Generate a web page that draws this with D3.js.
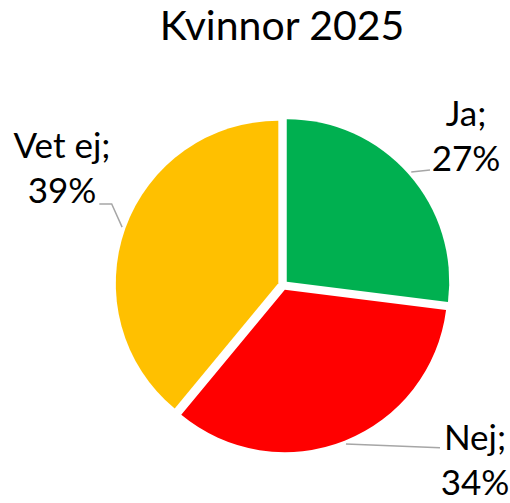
<!DOCTYPE html>
<html>
<head>
<meta charset="utf-8">
<script src="https://cdn.jsdelivr.net/npm/d3@7"></script>
<style>
  html, body { margin: 0; padding: 0; background: #fff; }
  svg { display: block; }
  text { font-family: Lato, "Open Sans", sans-serif; fill: #000; }
</style>
</head>
<body>
<svg width="510" height="503"></svg>
<script>
// data
var categories = ["Ja", "Nej", "Vet ej"];
var values = [27, 34, 39];
var colors = ["#00B050", "#FF0000", "#FFC000"];
var title = "Kvinnor 2025";

var svg = d3.select("svg"),
  width = +svg.attr("width"),
  height = +svg.attr("height");

var cx = 283, cy = 285,
  radius = 162.5,
  explode = 5;

// where each label sits (text centre x, first baseline y) and where its leader ends
var labelLayout = [
  {x: 466, y: 126, path: [[430, 170]]},
  {x: 475, y: 450, path: [[440, 447.7]]},
  {x: 62, y: 158, path: [[111.7, 204], [99.3, 204]]}
];

svg.append("text")
  .attr("x", 282)
  .attr("y", 40)
  .attr("text-anchor", "middle")
  .style("font-size", "41px")
  .text(title);

var pie = d3.pie().sort(null).value(function (d) { return d; });
var arcs = pie(values);

var arc = d3.arc().innerRadius(0).outerRadius(radius);

function mid(d) {
  return (d.startAngle + d.endAngle) / 2;
}

var g = svg.append("g").attr("transform", "translate(" + cx + "," + cy + ")");

g.selectAll("path.slice")
  .data(arcs)
  .enter().append("path")
  .attr("class", "slice")
  .attr("fill", function (d, i) { return colors[i]; })
  .attr("transform", function (d) {
    var a = mid(d);
    return "translate(" + (Math.sin(a) * explode) + "," + (-Math.cos(a) * explode) + ")";
  })
  .attr("d", arc);

// leader lines
var line = d3.line();
svg.selectAll("path.leader")
  .data(arcs)
  .enter().append("path")
  .attr("class", "leader")
  .attr("fill", "none")
  .attr("stroke", "#A6A6A6")
  .attr("stroke-width", 1.5)
  .attr("d", function (d, i) {
    var a = mid(d), r = radius + explode + 3.5;
    var start = [cx + Math.sin(a) * r, cy - Math.cos(a) * r];
    return line([start].concat(labelLayout[i].path));
  });

// labels
var lbl = svg.selectAll("text.label")
  .data(arcs)
  .enter().append("text")
  .attr("class", "label")
  .attr("text-anchor", "middle")
  .style("font-size", "35px");

lbl.append("tspan")
  .attr("x", function (d, i) { return labelLayout[i].x; })
  .attr("y", function (d, i) { return labelLayout[i].y; })
  .text(function (d, i) { return categories[i] + ";"; });

lbl.append("tspan")
  .attr("x", function (d, i) { return labelLayout[i].x; })
  .attr("y", function (d, i) { return labelLayout[i].y + 45; })
  .text(function (d, i) { return values[i] + "%"; });
</script>
</body>
</html>
